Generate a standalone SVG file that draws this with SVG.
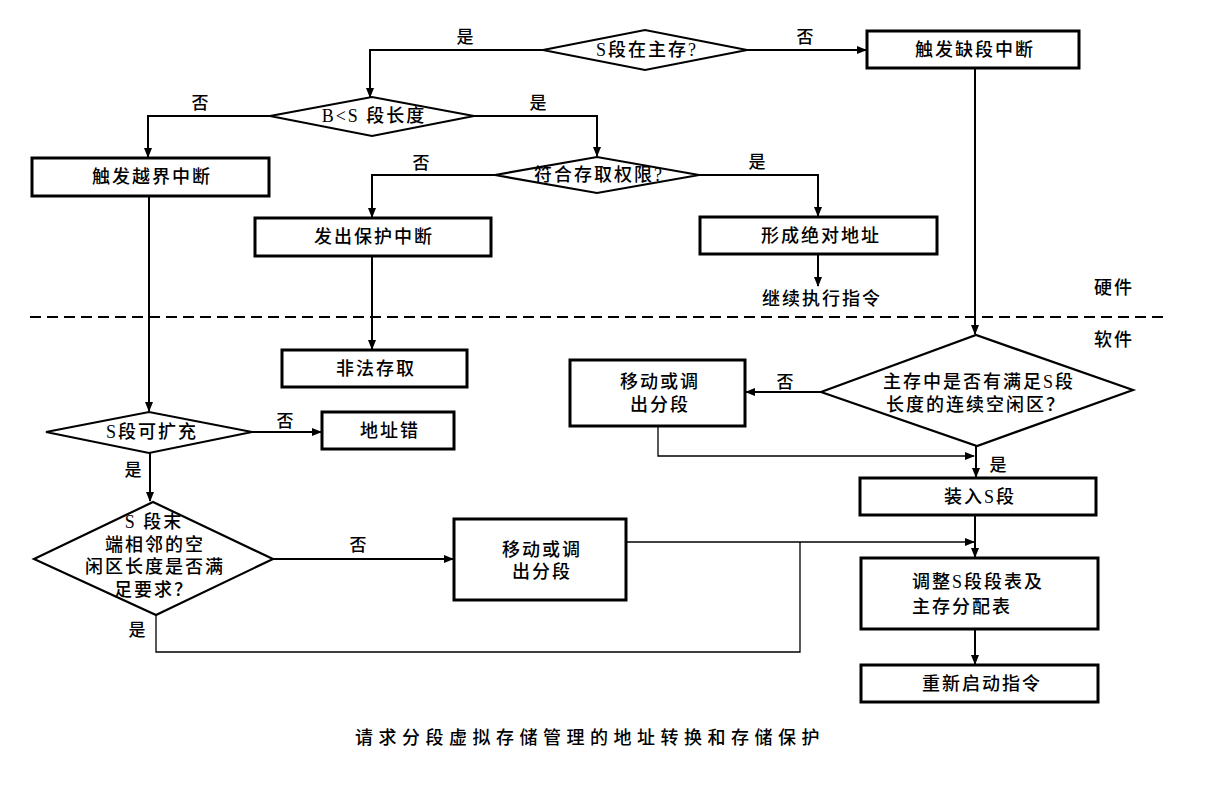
<svg xmlns="http://www.w3.org/2000/svg" width="1211" height="795" viewBox="0 0 1211 795">
<style>
.box{fill:#fff;stroke:#000;stroke-width:3}
.dia{fill:#fff;stroke:#000;stroke-width:2.2}
.ln{fill:none;stroke:#000;stroke-width:2}
.thin{fill:none;stroke:#000;stroke-width:1.3}
.t{font-family:"Liberation Serif","Noto Sans CJK SC",serif;font-size:18px;letter-spacing:2px;fill:#000;text-anchor:middle;font-weight:500}
.l{font-family:"Liberation Serif","Noto Sans CJK SC",serif;font-size:17px;fill:#000;text-anchor:middle;font-weight:500}
.cap{font-family:"Liberation Serif","Noto Sans CJK SC",serif;font-size:18px;letter-spacing:5.5px;fill:#000;text-anchor:middle;font-weight:500}
</style>
<defs>
<marker id="ah" markerUnits="userSpaceOnUse" markerWidth="10" markerHeight="8" refX="9" refY="4" orient="auto">
<path d="M0,0 L10,4 L0,8 Z" fill="#000"/>
</marker>
</defs>
<rect width="1211" height="795" fill="#fff"/>

<g id="connectors">
<polyline class="ln" points="543,50 370,50 370,97" marker-end="url(#ah)"/>
<polyline class="ln" points="747,50 866,50" marker-end="url(#ah)"/>
<polyline class="ln" points="975,68 975,334" marker-end="url(#ah)"/>
<polyline class="ln" points="270,116 148,116 148,157" marker-end="url(#ah)"/>
<polyline class="ln" points="474,116 597,116 597,156" marker-end="url(#ah)"/>
<polyline class="ln" points="149,196 149,411" marker-end="url(#ah)"/>
<polyline class="ln" points="495,175 372,175 372,217" marker-end="url(#ah)"/>
<polyline class="ln" points="699,175 818,175 818,216" marker-end="url(#ah)"/>
<polyline class="ln" points="818,254 818,286" marker-end="url(#ah)"/>
<polyline class="ln" points="372,256 372,349" marker-end="url(#ah)"/>
<polyline class="ln" points="252,432 321,432" marker-end="url(#ah)"/>
<polyline class="ln" points="150,453 150,501" marker-end="url(#ah)"/>
<polyline class="ln" points="273,559 453,559" marker-end="url(#ah)"/>
<polyline class="thin" points="156,615 156,652 800,652 800,542"/>
<polyline class="thin" points="626,542 974,542" marker-end="url(#ah)"/>
<polyline class="ln" points="975,515 975,557" marker-end="url(#ah)"/>
<polyline class="ln" points="821,392 746,392" marker-end="url(#ah)"/>
<polyline class="thin" points="658,426 658,456 974,456" marker-end="url(#ah)"/>
<polyline class="ln" points="976,446 976,477" marker-end="url(#ah)"/>
<polyline class="ln" points="975,629 975,664" marker-end="url(#ah)"/>
</g>

<g id="divider">
<line x1="30" y1="317" x2="1165" y2="317" stroke="#000" stroke-width="2" stroke-dasharray="11,6"/>
<text class="t" x="1114" y="294">硬件</text>
<text class="t" x="1114" y="346">软件</text>
</g>

<g id="labels">
<text class="l" x="465" y="43">是</text>
<text class="l" x="805" y="43">否</text>
<text class="l" x="200" y="109">否</text>
<text class="l" x="538" y="109">是</text>
<text class="l" x="421" y="169">否</text>
<text class="l" x="757" y="168">是</text>
<text class="l" x="285" y="427">否</text>
<text class="l" x="133" y="476">是</text>
<text class="l" x="358" y="551">否</text>
<text class="l" x="137" y="636">是</text>
<text class="l" x="785" y="388">否</text>
<text class="l" x="998" y="471">是</text>
<text class="t" x="822" y="305">继续执行指令</text>
</g>

<g id="d-in-memory">
<polygon class="dia" points="543,50 645,30 747,50 645,70"/>
<text class="t" x="647" y="56">S段在主存?</text>
</g>
<g id="box-missing-seg">
<rect class="box" x="867" y="31" width="212" height="37"/>
<text class="t" x="975" y="56">触发缺段中断</text>
</g>
<g id="d-bound">
<polygon class="dia" points="270,116 372,97 474,116 372,136"/>
<text class="t" x="374" y="122">B&lt;S 段长度</text>
</g>
<g id="box-out-of-bound">
<rect class="box" x="32" y="158" width="237" height="38"/>
<text class="t" x="152" y="183">触发越界中断</text>
</g>
<g id="d-access">
<polygon class="dia" points="495,175 597,157 699,175 597,193"/>
<text class="t" x="599" y="181">符合存取权限?</text>
</g>
<g id="box-protect">
<rect class="box" x="255" y="218" width="236" height="38"/>
<text class="t" x="374" y="243">发出保护中断</text>
</g>
<g id="box-absolute">
<rect class="box" x="700" y="217" width="237" height="37"/>
<text class="t" x="821" y="242">形成绝对地址</text>
</g>
<g id="box-illegal">
<rect class="box" x="282" y="350" width="185" height="37"/>
<text class="t" x="376" y="375">非法存取</text>
</g>
<g id="d-expand">
<polygon class="dia" points="46,432 149,412 252,432 149,453"/>
<text class="t" x="152" y="438">S段可扩充</text>
</g>
<g id="box-addr-err">
<rect class="box" x="322" y="412" width="132" height="37"/>
<text class="t" x="390" y="437">地址错</text>
</g>
<g id="d-adjacent">
<polygon class="dia" points="34,559 153,502 273,559 156,615"/>
<text class="t" x="154" y="528">S 段末</text>
<text class="t" x="155" y="551">端相邻的空</text>
<text class="t" x="155" y="573">闲区长度是否满</text>
<text class="t" x="154" y="596">足要求？</text>
</g>
<g id="box-move2">
<rect class="box" x="454" y="519" width="172" height="81"/>
<text class="t" x="542" y="556">移动或调</text>
<text class="t" x="542" y="578">出分段</text>
</g>
<g id="d-free">
<polygon class="dia" points="821,392 976,335 1133,390 977,446"/>
<text class="t" x="979" y="388">主存中是否有满足S段</text>
<text class="t" x="976" y="411">长度的连续空闲区？</text>
</g>
<g id="box-move1">
<rect class="box" x="570" y="360" width="175" height="66"/>
<text class="t" x="660" y="388">移动或调</text>
<text class="t" x="660" y="411">出分段</text>
</g>
<g id="box-load">
<rect class="box" x="860" y="478" width="236" height="37"/>
<text class="t" x="980" y="503">装入S段</text>
</g>
<g id="box-adjust">
<rect class="box" x="861" y="558" width="237" height="71"/>
<text class="t" x="912" y="588" style="text-anchor:start">调整S段段表及</text>
<text class="t" x="912" y="613" style="text-anchor:start">主存分配表</text>
</g>
<g id="box-restart">
<rect class="box" x="861" y="665" width="237" height="37"/>
<text class="t" x="982" y="690">重新启动指令</text>
</g>
<text class="cap" x="590" y="744">请求分段虚拟存储管理的地址转换和存储保护</text>
</svg>
